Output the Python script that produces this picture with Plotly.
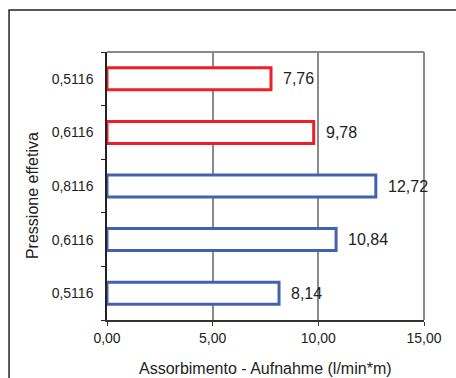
import plotly.graph_objects as go

categories = ["0,5116", "0,6116", "0,8116", "0,6116", "0,5116"]  # bottom to top
values = [8.14, 10.84, 12.72, 9.78, 7.76]
series_color = ["blue", "blue", "blue", "red", "red"]
x_ticks = [0, 5, 10, 15]

COL = {"red": "#EE1F26", "blue": "#4461AE"}
FONT = "Liberation Sans, Arial, sans-serif"

pos = list(range(len(categories)))

fig = go.Figure()
fig.add_trace(go.Bar(
    y=pos, x=values, orientation="h", width=0.41,
    marker=dict(color="white", line=dict(color=[COL[c] for c in series_color], width=3)),
    hoverinfo="skip",
))

for p, v in zip(pos, values):
    fig.add_annotation(x=v, y=p, xref="x", yref="y", text=f"{v:.2f}".replace(".", ","),
                       showarrow=False, xanchor="left", xshift=10,
                       font=dict(family=FONT, size=16, color="#222"))

# axis titles
fig.add_annotation(x=0.5, y=-0.18, xref="paper", yref="paper",
                   text="Assorbimento - Aufnahme (l/min*m)", showarrow=False,
                   xanchor="center", yanchor="middle",
                   font=dict(family=FONT, size=16, color="#222"))
fig.add_annotation(x=-0.233, y=0.463, xref="paper", yref="paper",
                   text="Pressione effetiva", showarrow=False, textangle=-90,
                   xanchor="center", yanchor="middle",
                   font=dict(family=FONT, size=16, color="#222"))

# outer frame of the chart area
fig.add_shape(type="rect", xref="paper", yref="paper",
              x0=-0.309, x1=1.3, y0=-0.4, y1=1.157,
              line=dict(color="#222", width=1.5), layer="below")

fig.update_layout(
    width=456, height=378,
    margin=dict(l=107, r=32, t=52, b=58),
    paper_bgcolor="white", plot_bgcolor="white",
    separators=",.",
    showlegend=False,
    font=dict(family=FONT, size=14, color="#222"),
    xaxis=dict(
        range=[0, 15], tickvals=x_ticks, tickformat=".2f",
        showgrid=True, gridcolor="#8a8a8a", gridwidth=1.5,
        showline=True, linecolor="#333", linewidth=1.5, mirror=False,
        ticks="outside", ticklen=4, tickcolor="#333",
        zeroline=False, automargin=False,
        tickfont=dict(size=14),
    ),
    yaxis=dict(
        range=[-0.5, 4.5], tickvals=pos, ticktext=categories,
        showgrid=False, showline=True, linecolor="#222", linewidth=1.5,
        ticks="", ticklabelstandoff=9,
        minor=dict(tickvals=[-0.5, 0.5, 1.5, 2.5, 3.5, 4.5], ticks="outside", ticklen=4, tickcolor="#222", showgrid=False),
        zeroline=False, automargin=False,
        tickfont=dict(size=14),
    ),
)

# darker gridline at 10 and gray plot-area frame (top/right)
fig.add_shape(type="line", xref="x", yref="paper", x0=10, x1=10, y0=0, y1=1,
              line=dict(color="#111", width=1), layer="below")
fig.add_shape(type="line", xref="paper", yref="paper", x0=0, x1=1, y0=1, y1=1,
              line=dict(color="#8a8a8a", width=2), layer="below")
fig.add_shape(type="line", xref="paper", yref="paper", x0=1, x1=1, y0=0, y1=1,
              line=dict(color="#8a8a8a", width=2), layer="below")

fig.write_html("out.html")
